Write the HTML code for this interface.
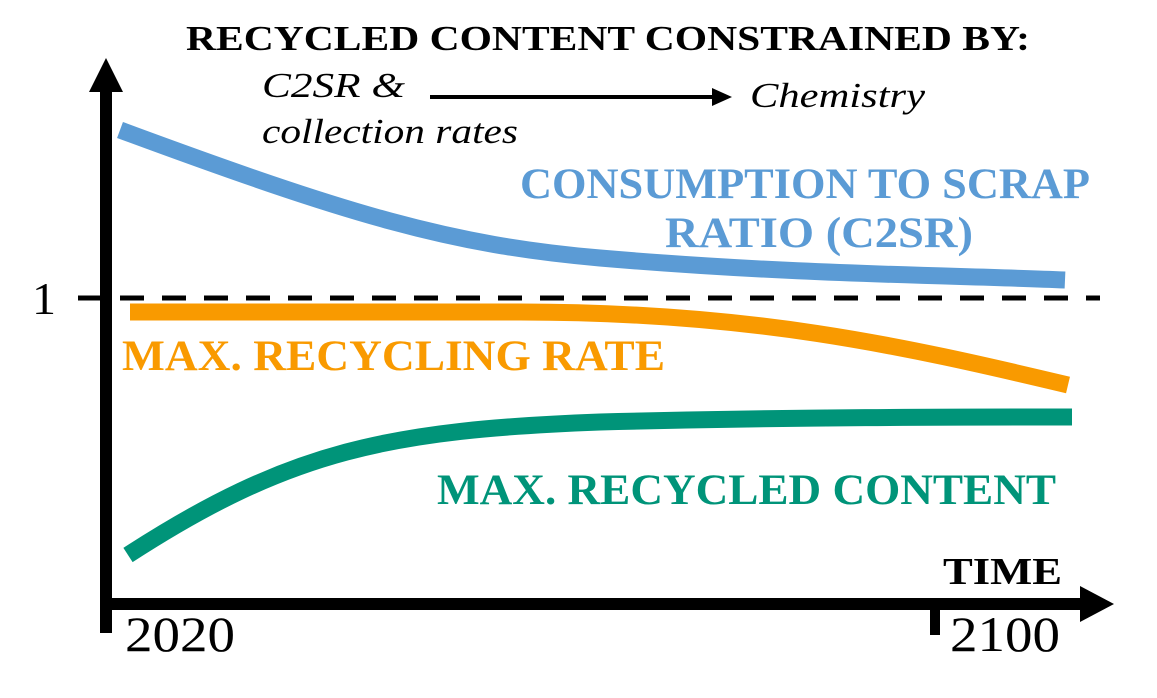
<!DOCTYPE html>
<html><head><style>
body{margin:0;width:1157px;height:693px;background:#fff;overflow:hidden}
svg text{font-family:"Liberation Serif",serif}
</style></head><body>
<svg width="1157" height="693" viewBox="0 0 1157 693">
<text x="186" y="50" font-size="35" font-weight="bold" textLength="844" lengthAdjust="spacingAndGlyphs">RECYCLED CONTENT CONSTRAINED BY:</text>
<text x="262" y="97" font-size="35" font-style="italic" textLength="143" lengthAdjust="spacingAndGlyphs">C2SR &amp;</text>
<text x="262" y="143" font-size="35" font-style="italic" textLength="256" lengthAdjust="spacingAndGlyphs">collection rates</text>
<line x1="430" y1="97" x2="715" y2="97" stroke="#000" stroke-width="4"/>
<polygon points="732,97 712,88 712,106" fill="#000"/>
<text x="750" y="107" font-size="35" font-style="italic" textLength="175" lengthAdjust="spacingAndGlyphs">Chemistry</text>
<line x1="106" y1="88" x2="106" y2="633" stroke="#000" stroke-width="12"/>
<polygon points="106,58 89,92 123,92" fill="#000"/>
<line x1="100" y1="604" x2="1083" y2="604" stroke="#000" stroke-width="12"/>
<polygon points="1114,604 1080,586 1080,622" fill="#000"/>
<line x1="935" y1="604" x2="935" y2="635" stroke="#000" stroke-width="10"/>
<line x1="78" y1="298" x2="100" y2="298" stroke="#000" stroke-width="5"/>
<line x1="120" y1="298" x2="1100" y2="298" stroke="#000" stroke-width="5" stroke-dasharray="24,18"/>
<text x="32" y="314" font-size="46" textLength="24" lengthAdjust="spacingAndGlyphs">1</text>
<text x="125" y="651" font-size="50" textLength="110" lengthAdjust="spacingAndGlyphs">2020</text>
<text x="950" y="651" font-size="50" textLength="110" lengthAdjust="spacingAndGlyphs">2100</text>
<text x="943" y="584" font-size="38" font-weight="bold" textLength="119" lengthAdjust="spacingAndGlyphs">TIME</text>
<path d="M120,130 C350,215 450,245 600,258 C800,275 950,275 1065,280" fill="none" stroke="#5b9bd5" stroke-width="17"/>
<path d="M130,312 L520,312 C750,312 900,345 1068,385" fill="none" stroke="#f99a00" stroke-width="17"/>
<path d="M128,555 C290,450 390,430 600,422 C800,417 950,417 1072,417" fill="none" stroke="#009479" stroke-width="17"/>
<text x="520" y="198" font-size="43" font-weight="bold" fill="#5b9bd5" textLength="570" lengthAdjust="spacingAndGlyphs">CONSUMPTION TO SCRAP</text>
<text x="665" y="247" font-size="43" font-weight="bold" fill="#5b9bd5" textLength="308" lengthAdjust="spacingAndGlyphs">RATIO (C2SR)</text>
<text x="122" y="370" font-size="43" font-weight="bold" fill="#f99a00" textLength="543" lengthAdjust="spacingAndGlyphs">MAX. RECYCLING RATE</text>
<text x="437" y="504" font-size="43" font-weight="bold" fill="#009479" textLength="619" lengthAdjust="spacingAndGlyphs">MAX. RECYCLED CONTENT</text>
</svg>
</body></html>
